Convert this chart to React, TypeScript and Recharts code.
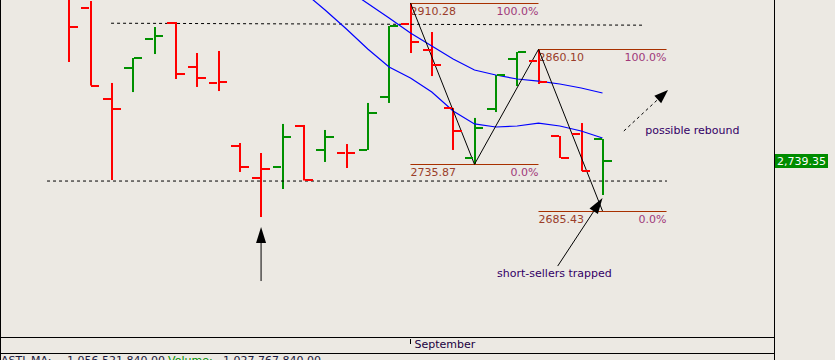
import React from "react";
import {
  ComposedChart,
  Bar,
  Line,
  Scatter,
  XAxis,
  YAxis,
  ReferenceLine,
  ReferenceDot,
} from "recharts";

// OHLC bars, oldest first (one per session)
const opens = [2924.3, 2904.9, 2806.5, 2840.0, 2871.3, 2888.6, 2841.1, 2823.8, 2755.7, 2721.1, 2733.0, 2777.3, 2751.4, 2748.1, 2751.4, 2808.6, 2887.6, 2859.5, 2796.8, 2742.7, 2795.7, 2849.7, 2847.6, 2766.5, 2768.6, 2763.2];
const highs = [2940.5, 2912.4, 2823.8, 2850.8, 2884.3, 2889.7, 2856.2, 2858.4, 2758.9, 2748.1, 2779.5, 2778.4, 2773.0, 2757.8, 2802.2, 2885.4, 2910.28, 2878.9, 2796.8, 2786.0, 2832.4, 2857.3, 2860.1, 2766.5, 2780.5, 2763.2];
const lows = [2846.5, 2821.0, 2718.9, 2814.0, 2855.1, 2828.1, 2819.5, 2815.1, 2727.6, 2678.9, 2709.2, 2718.4, 2738.4, 2731.9, 2751.4, 2802.2, 2856.2, 2831.3, 2751.4, 2735.87, 2792.4, 2820.5, 2822.7, 2742.7, 2728.6, 2702.7];
const closes = [2884.3, 2821.0, 2795.7, 2850.8, 2874.6, 2833.5, 2829.2, 2824.9, 2733.0, 2730.8, 2765.4, 2718.4, 2765.4, 2748.1, 2791.3, 2885.4, 2868.1, 2843.2, 2771.9, 2775.1, 2832.4, 2857.3, 2824.9, 2742.7, 2728.6, 2739.35];

// moving averages (null = above the visible range, not drawn)
const maSlow = [null, null, null, null, null, null, null, null, null, null, null, null, 2941.6, 2925.4, 2909.7, 2894.0, 2877.8, 2863.8, 2849.7, 2837.8, 2832.4, 2828.1, 2825.9, 2822.7, 2818.4, 2813.0];
const maFast = [null, null, null, null, null, null, null, null, null, null, 2941.6, 2922.1, 2902.7, 2882.2, 2860.5, 2841.1, 2829.2, 2814.0, 2793.5, 2779.5, 2776.2, 2777.3, 2780.5, 2777.3, 2771.9, 2764.3];

const monthTicks = [16];
const monthLabels = ["September"];
const lastPrice = 2739.35;

// drawing objects
const fibs = [
  { from: 16, to: 22, high: 2910.28, low: 2735.87 },
  { from: 22, to: 28, high: 2860.1, low: 2685.43 },
];
const zigzag = [
  { x: 16, y: 2910.28 },
  { x: 19, y: 2735.87 },
  { x: 22, y: 2860.1 },
  { x: 25, y: 2685.43 },
];
const guides = [
  { x1: 1.97, y1: 2888.4, x2: 26.85, y2: 2886.3 },
  { x1: -1.03, y1: 2717.8, x2: 28.02, y2: 2717.8 },
];
const arrows = [
  { x1: 9, y1: 2609.7, x2: 9, y2: 2668.1, dashed: false },
  { x1: 26.0, y1: 2771.9, x2: 28.07, y2: 2816.2, dashed: true },
  { x1: 22.9, y1: 2625.9, x2: 25.0, y2: 2699.5, dashed: false },
];
const notes = [
  { x: 27.0, y: 2768.6, text: "possible rebound" },
  { x: 20.06, y: 2614.1, text: "short-sellers trapped" },
];

const X_DOMAIN: [number, number] = [-3.187, 33.036];
const Y_DOMAIN: [number, number] = [2549.2, 2913.5];

const BG = "#ece9e3";
const UP = "#009000";
const DOWN = "#ff0000";
const FIB = "#a83000";
const FIB_NUM = "#9a3d2a";
const FIB_PCT = "#a0387a";
const NOTE = "#330066";
const FONT = "'DejaVu Sans', Verdana, sans-serif";

const data = opens.map((open, i) => ({
  i,
  open,
  high: highs[i],
  low: lows[i],
  close: closes[i],
  up: i > 0 && closes[i] >= closes[i - 1],
  maSlow: maSlow[i],
  maFast: maFast[i],
}));

function Stem(props: any) {
  const { x, y, width, height, payload } = props;
  if (height == null || !payload) return null;
  const cx = Math.round(x + width / 2);
  return <rect x={cx - 1} y={y} width={2} height={Math.max(height, 1)} fill={payload.up ? UP : DOWN} />;
}

function OpenTick(p: any) {
  const cx = Math.round(p.cx);
  const cy = Math.round(p.cy);
  return <rect x={cx - 9} y={cy - 1} width={8} height={2} fill={p.payload.up ? UP : DOWN} />;
}

function CloseTick(p: any) {
  const cx = Math.round(p.cx);
  const cy = Math.round(p.cy);
  return <rect x={cx + 1} y={cy - 1} width={8} height={2} fill={p.payload.up ? UP : DOWN} />;
}

const fibShape = (value: number, pct: string) => (p: any) => (
  <g>
    <line x1={p.x1} y1={Math.round(p.y1) + 0.5} x2={p.x2} y2={Math.round(p.y2) + 0.5} stroke={FIB} strokeWidth={1} />
    <text x={p.x1} y={Math.round(p.y1) + 12} fill={FIB_NUM} fontSize={11} fontFamily={FONT}>
      {value.toFixed(2)}
    </text>
    <text x={p.x2} y={Math.round(p.y1) + 12} fill={FIB_PCT} fontSize={11} fontFamily={FONT} textAnchor="end">
      {pct}
    </text>
  </g>
);

const arrowShape = (dashed: boolean, len: number, half: number) => (p: any) => {
  const { x1, y1, x2, y2 } = p;
  const dx = x2 - x1;
  const dy = y2 - y1;
  const d = Math.hypot(dx, dy) || 1;
  const ux = dx / d;
  const uy = dy / d;
  const bx = x2 - ux * len;
  const by = y2 - uy * len;
  const pts = `${x2},${y2} ${bx - uy * half},${by + ux * half} ${bx + uy * half},${by - ux * half}`;
  return (
    <g>
      <line x1={x1} y1={y1} x2={bx} y2={by} stroke="#000" strokeWidth={1} strokeDasharray={dashed ? "3 3" : undefined} />
      <polygon points={pts} fill="#000" />
    </g>
  );
};

function PriceTag(p: any) {
  const y = Math.round(p.y);
  const v = Number(p.payload.value);
  return (
    <g>
      <rect x={p.x} y={y - 7} width={53} height={14} fill="#008c00" />
      <text x={p.x + 51} y={y + 4} textAnchor="end" fill="#ffffff" fontSize={11} fontFamily={FONT}>
        {v.toLocaleString("en-US", { minimumFractionDigits: 2, maximumFractionDigits: 2 })}
      </text>
    </g>
  );
}

function MonthTick(p: any) {
  const x = Math.round(p.x) + 0.5;
  const idx = monthTicks.indexOf(p.payload.value);
  return (
    <g>
      <line x1={x} y1={p.y + 2} x2={x} y2={p.y + 7} stroke="#000" strokeWidth={1} />
      <text x={x + 4} y={p.y + 11} fontSize={11} fontFamily={FONT} fill="#200040">
        {monthLabels[idx] ?? ""}
      </text>
    </g>
  );
}

export default function App() {
  return (
    <div
      style={{
        position: "absolute",
        left: 0,
        top: 0,
        width: 835,
        height: 360,
        overflow: "hidden",
        background: BG,
        fontFamily: FONT,
      }}
    >
      <ComposedChart width={835} height={353} data={data} margin={{ top: 0, right: 0, bottom: 0, left: 1 }}>
        <XAxis
          dataKey="i"
          type="number"
          domain={X_DOMAIN}
          allowDataOverflow
          ticks={monthTicks}
          interval={0}
          height={16}
          axisLine={false}
          tickLine={false}
          tickSize={0}
          tickMargin={0}
          tick={<MonthTick />}
        />
        <YAxis
          type="number"
          orientation="right"
          domain={Y_DOMAIN}
          allowDataOverflow
          width={61}
          ticks={[lastPrice]}
          interval={0}
          axisLine={false}
          tickLine={false}
          tickSize={0}
          tickMargin={1}
          tick={<PriceTag />}
        />

        {guides.map((g, k) => (
          <ReferenceLine
            key={`g${k}`}
            segment={[{ x: g.x1, y: g.y1 }, { x: g.x2, y: g.y2 }]}
            stroke="#000"
            strokeWidth={1}
            strokeDasharray="3 3"
            ifOverflow="visible"
          />
        ))}

        <Line dataKey="maSlow" stroke="#0000ff" strokeWidth={1.2} dot={false} activeDot={false} isAnimationActive={false} />
        <Line dataKey="maFast" stroke="#0000ff" strokeWidth={1.2} dot={false} activeDot={false} isAnimationActive={false} />

        <Bar dataKey={(d: any) => [d.low, d.high]} barSize={2} shape={<Stem />} isAnimationActive={false} />
        <Scatter dataKey="open" shape={OpenTick} isAnimationActive={false} />
        <Scatter dataKey="close" shape={CloseTick} isAnimationActive={false} />

        {fibs.flatMap((f, k) => [
          <ReferenceLine
            key={`fh${k}`}
            segment={[{ x: f.from, y: f.high }, { x: f.to, y: f.high }]}
            ifOverflow="visible"
            shape={fibShape(f.high, "100.0%")}
          />,
          <ReferenceLine
            key={`fl${k}`}
            segment={[{ x: f.from, y: f.low }, { x: f.to, y: f.low }]}
            ifOverflow="visible"
            shape={fibShape(f.low, "0.0%")}
          />,
        ])}

        {zigzag.slice(1).map((pt, k) => (
          <ReferenceLine
            key={`z${k}`}
            segment={[zigzag[k], pt]}
            stroke="#000"
            strokeWidth={1}
            ifOverflow="visible"
          />
        ))}

        {arrows.map((a, k) => (
          <ReferenceLine
            key={`a${k}`}
            segment={[{ x: a.x1, y: a.y1 }, { x: a.x2, y: a.y2 }]}
            ifOverflow="visible"
            shape={arrowShape(a.dashed, a.dashed ? 14 : 16, 5)}
          />
        ))}

        {notes.map((n) => (
          <ReferenceDot
            key={n.text}
            x={n.x}
            y={n.y}
            r={0}
            ifOverflow="visible"
            shape={(p: any) => (
              <text x={p.cx} y={p.cy} fontSize={11} fontFamily={FONT} fill={NOTE}>
                {n.text}
              </text>
            )}
          />
        ))}
      </ComposedChart>

      {/* frame */}
      <div style={{ position: "absolute", left: 0, top: 0, width: 1, height: 360, background: "#000" }} />
      <div style={{ position: "absolute", left: 774, top: 0, width: 1, height: 360, background: "#000" }} />
      <div style={{ position: "absolute", left: 0, top: 337, width: 775, height: 1, background: "#000" }} />
      <div style={{ position: "absolute", left: 0, top: 353, width: 775, height: 1, background: "#000" }} />

      {/* indicator status line */}
      <div style={{ position: "absolute", left: 0, top: 354, width: 774, height: 6, fontSize: 11, color: "#1a1a40", whiteSpace: "nowrap" }}>
        <span style={{ position: "absolute", left: 1, top: 0 }}>ASTI_MA:</span>
        <span style={{ position: "absolute", left: 67, top: 0 }}>1,056,521,840.00</span>
        <span style={{ position: "absolute", left: 168, top: 0, color: UP }}>Volume:</span>
        <span style={{ position: "absolute", left: 223, top: 0 }}>1,027,767,840.00</span>
      </div>
    </div>
  );
}
